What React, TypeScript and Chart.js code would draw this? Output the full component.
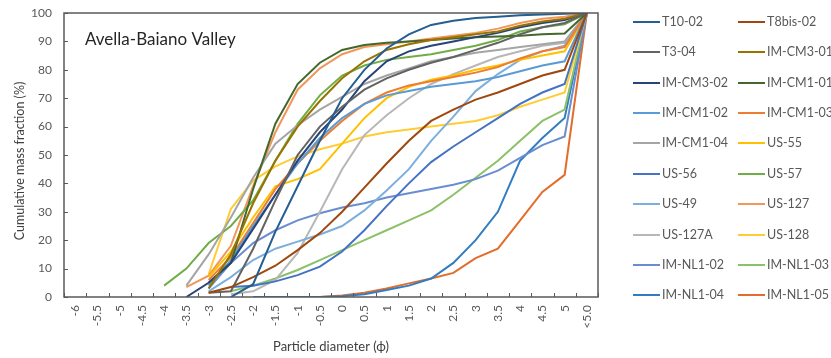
import React, { useEffect, useRef } from "react";
import { Chart, registerables } from "chart.js";

Chart.register(...registerables);

const categories = [
  "-6", "-5.5", "-5", "-4.5", "-4", "-3.5", "-3", "-2.5", "-2", "-1.5", "-1", "-0.5",
  "0", "0.5", "1", "1.5", "2", "2.5", "3", "3.5", "4", "4.5", "5", "<5.0",
];

const chartTitle = "Avella-Baiano Valley";
const xTitle = "Particle diameter (ϕ)";
const yTitle = "Cumulative mass fraction (%)";

const seriesNames = [
  "T10-02", "T8bis-02", "T3-04", "IM-CM3-01", "IM-CM3-02", "IM-CM1-01", "IM-CM1-02", "IM-CM1-03",
  "IM-CM1-04", "US-55", "US-56", "US-57", "US-49", "US-127", "US-127A", "US-128",
  "IM-NL1-02", "IM-NL1-03", "IM-NL1-04", "IM-NL1-05",
];

const seriesColors = [
  "#255E91", "#9E480E", "#636363", "#997300", "#264478", "#43682B", "#5B9BD5", "#ED7D31",
  "#A5A5A5", "#FFC000", "#4472C4", "#70AD47", "#7CAFDD", "#F1975A", "#B7B7B7", "#FFCD33",
  "#698ED0", "#8CC168", "#327DC2", "#E36C2A",
];

const n = null;
const T10_02 = [n, n, n, n, n, n, n, 0, 4.5, 23, 39, 55, 70, 80, 87.5, 92.5, 95.8, 97.3, 98.2, 98.7, 99.2, 99.5, 99.7, 100];
const T8bis_02 = [n, n, n, n, n, n, 1.5, 3.5, 7, 11, 16.5, 22.5, 30, 38.5, 47, 55, 62, 66, 69.5, 72, 75, 78, 80, 100];
const T3_04 = [n, n, n, n, n, n, 1.5, 2, 17, 34, 50, 60, 67, 73, 77, 80, 82.5, 84.5, 87, 89.5, 92.5, 95, 96.5, 100];
const IM_CM3_01 = [n, n, n, n, n, n, 3, 15, 33, 48, 60, 69, 77, 83, 87, 89, 90.5, 91.5, 92.5, 93.5, 95.5, 97, 98, 100];
const IM_CM3_02 = [n, n, n, n, n, 0, 5, 12, 24, 36, 48, 58, 66, 76, 83, 86.5, 88.5, 90, 91.5, 93, 95, 96.5, 97.5, 100];
const IM_CM1_01 = [n, n, n, n, n, n, 5, 12, 38, 61, 75, 82.5, 87, 88.7, 89.5, 90, 90.5, 91, 91.5, 91.7, 92, 92.5, 92.8, 100];
const IM_CM1_02 = [n, n, n, n, n, n, 4, 13, 25, 36, 47, 56, 63, 68, 71, 72.5, 74, 75, 76, 77.5, 79.5, 81.5, 83, 100];
const IM_CM1_03 = [n, n, n, n, n, n, 6, 14, 26, 38, 47, 55, 62, 68, 72, 74.5, 76, 77.5, 79, 81, 84, 86.5, 88, 100];
const IM_CM1_04 = [n, n, n, n, n, 4, 15, 28, 42, 54, 60.5, 66, 70.5, 75, 78, 80.5, 83, 84.5, 86, 87, 88, 89, 90, 100];
const US_55 = [n, n, n, n, n, n, 7, 16, 28, 39, 41.5, 45, 54, 63, 70, 74, 76.5, 78, 80, 81.5, 83.5, 85, 86.5, 100];
const US_56 = [n, n, n, n, n, n, n, 3.5, 4, 5.5, 7.7, 10.7, 16, 23.5, 32, 40, 47.5, 53, 58, 63, 68, 72, 75, 100];
const US_57 = [n, n, n, n, 4, 10, 19, 25, 34, 48, 61, 71, 78, 81.5, 83.5, 84.5, 85.5, 87, 88.5, 90.5, 93.5, 95, 96, 100];
const US_49 = [n, n, n, n, n, n, 2, 7, 13, 17, 19.5, 22, 25, 30.5, 37.5, 45, 55, 63.5, 72.5, 78.5, 83.5, 86.5, 88.5, 100];
const US_127 = [n, n, n, n, n, 3.5, 7.5, 18, 39, 58, 73, 80.5, 85.5, 88, 89, 90, 91, 92, 93, 94.5, 96.5, 98, 98.7, 100];
const US_127A = [n, n, n, n, n, n, n, 1, 2, 6, 15.5, 30, 45, 57, 64, 70, 75, 78.5, 81.5, 84.5, 86.5, 88.5, 89.5, 100];
const US_128 = [n, n, n, n, n, n, 8, 31, 41, 46, 49.5, 52, 54, 56.5, 58, 59, 60, 61, 62, 64, 67, 69.5, 72, 100];
const IM_NL1_02 = [n, n, n, n, n, n, 3, 12, 19, 23.5, 27, 29.5, 31.5, 33, 35, 36.5, 38, 39.5, 41.5, 44.5, 49, 53.5, 56.5, 100];
const IM_NL1_03 = [n, n, n, n, n, n, n, 2, 4, 6.5, 9.5, 13, 16.5, 20, 23.5, 27, 30.5, 36, 42, 48, 55, 62, 66, 100];
const IM_NL1_04 = [n, n, n, n, n, n, n, n, 0, 0, 0, 0, 0.3, 1, 2.5, 4, 6.5, 12, 20, 30, 48, 56, 63, 100];
const IM_NL1_05 = [n, n, n, n, n, n, n, n, n, 0, 0, 0, 0.5, 1.5, 3, 4.8, 6.5, 8.5, 13.7, 17, 27, 37, 43, 100];

const seriesValues = [
  T10_02, T8bis_02, T3_04, IM_CM3_01, IM_CM3_02, IM_CM1_01, IM_CM1_02, IM_CM1_03,
  IM_CM1_04, US_55, US_56, US_57, US_49, US_127, US_127A, US_128,
  IM_NL1_02, IM_NL1_03, IM_NL1_04, IM_NL1_05,
];

const FONT = "Lato, 'Open Sans', sans-serif";
const AXIS_COLOR = "#595959";

const framePlugin = {
  id: "frame",
  afterDatasetsDraw(chart: any) {
    const { ctx, chartArea: a, scales } = chart;
    ctx.save();
    ctx.strokeStyle = AXIS_COLOR;
    ctx.lineWidth = 1.5;
    ctx.strokeRect(a.left, a.top, a.right - a.left, a.bottom - a.top);
    ctx.lineWidth = 1;
    const xs = scales.x;
    const count = xs.ticks.length;
    ctx.beginPath();
    for (let i = 0; i <= count; i++) {
      let px;
      if (i === 0) px = a.left;
      else if (i === count) px = a.right;
      else px = (xs.getPixelForTick(i - 1) + xs.getPixelForTick(i)) / 2;
      px = Math.round(px) + 0.5;
      ctx.moveTo(px, a.bottom);
      ctx.lineTo(px, a.bottom - 4);
    }
    const ys = scales.y;
    ys.ticks.forEach((t: any) => {
      const py = Math.round(ys.getPixelForValue(t.value)) + 0.5;
      ctx.moveTo(a.left, py);
      ctx.lineTo(a.left + 4, py);
    });
    ctx.stroke();
    // chart title inside plot area
    ctx.fillStyle = "#262626";
    ctx.font = `17px ${FONT}`;
    ctx.textBaseline = "middle";
    ctx.textAlign = "left";
    ctx.fillText(chartTitle, a.left + 21, a.top + 27);
    // y-axis title
    ctx.save();
    ctx.translate(20, (a.top + a.bottom) / 2 + 6);
    ctx.rotate(-Math.PI / 2);
    ctx.fillStyle = "#404040";
    ctx.font = `12.5px ${FONT}`;
    ctx.textAlign = "center";
    ctx.textBaseline = "middle";
    ctx.fillText(yTitle, 0, 0);
    ctx.restore();
    ctx.restore();
  },
};

export default function App() {
  const ref = useRef<HTMLCanvasElement | null>(null);

  useEffect(() => {
    if (!ref.current) return;
    const chart = new Chart(ref.current, {
      type: "line",
      data: {
        labels: categories,
        datasets: seriesNames.map((name, i) => ({
          label: name,
          data: seriesValues[i],
          borderColor: seriesColors[i],
          backgroundColor: seriesColors[i],
          borderWidth: 2,
          pointRadius: 0,
          tension: 0,
          fill: false,
        })),
      },
      options: {
        animation: false,
        responsive: false,
        devicePixelRatio: 1,
        layout: { padding: { left: 0, right: 233, top: 13, bottom: 0 } },
        plugins: {
          legend: { display: false },
          tooltip: { enabled: false },
        },
        scales: {
          x: {
            type: "category",
            offset: true,
            grid: { display: false, drawTicks: false },
            border: { display: false },
            ticks: {
              autoSkip: false,
              maxRotation: 90,
              minRotation: 90,
              padding: 8,
              color: AXIS_COLOR,
              font: { family: FONT, size: 12 },
            },
            title: {
              display: true,
              text: xTitle,
              color: "#404040",
              font: { family: FONT, size: 13 },
              padding: { top: 0, bottom: 3 },
            },
            afterFit(s: any) {
              s.height = 61;
              s.paddingLeft = 0;
              s.paddingRight = 0;
            },
          },
          y: {
            min: 0,
            max: 100,
            grid: { display: false, drawTicks: false },
            border: { display: false },
            ticks: {
              stepSize: 10,
              padding: 12,
              color: AXIS_COLOR,
              font: { family: FONT, size: 12 },
            },
            afterFit(s: any) {
              s.width = 64;
              s.paddingTop = 0;
              s.paddingBottom = 0;
            },
          },
        },
      },
      plugins: [framePlugin],
    } as any);
    return () => chart.destroy();
  }, []);

  return (
    <div style={{ position: "fixed", left: 0, top: 0, width: 831, height: 358, background: "#fff" }}>
      <canvas ref={ref} width={831} height={358} style={{ position: "absolute", left: 0, top: 0, width: 831, height: 358 }} />
      {seriesNames.map((name, i) => {
        const col = i % 2;
        const row = Math.floor(i / 2);
        const cy = 21.7 + row * 30.4;
        const left = col ? 738 : 633;
        return (
          <React.Fragment key={name}>
            <div style={{ position: "absolute", left, top: cy - 1, width: 27, height: 2, background: seriesColors[i] }} />
            <span
              style={{
                position: "absolute",
                left: left + 29,
                top: cy - 9,
                fontFamily: FONT,
                fontSize: 12.5,
                lineHeight: "18px",
                color: AXIS_COLOR,
                whiteSpace: "nowrap",
              }}
            >
              {name}
            </span>
          </React.Fragment>
        );
      })}
    </div>
  );
}
